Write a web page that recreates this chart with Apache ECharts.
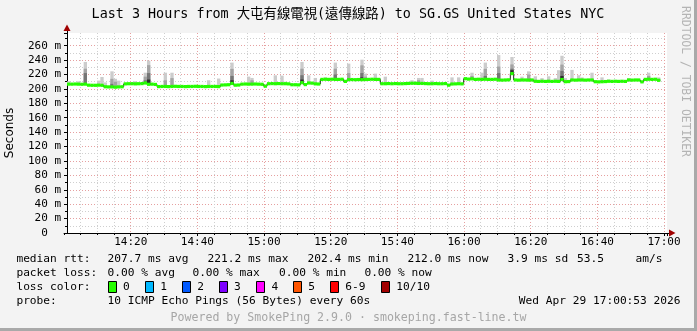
<!DOCTYPE html>
<html><head><meta charset="utf-8">
<script src="https://cdn.jsdelivr.net/npm/echarts@6/dist/echarts.min.js"></script>
<style>html,body{margin:0;padding:0;background:#f3f3f3}#c{width:697px;height:331px}</style>
</head><body><div id="c"></div><script>
// ---------- data ----------
const titleText = 'Last 3 Hours from 大屯有線電視(遠傳線路) to SG.GS United States NYC';
const xTickLabels = ['14:20','14:40','15:00','15:20','15:40','16:00','16:20','16:40','17:00'];
const xTickMinutes = [20,40,60,80,100,120,140,160,180]; // minutes after 14:00
const startSeconds = 53; // graph window starts at 14:00:53
const yLabelValues = [0,20,40,60,80,100,120,140,160,180,200,220,240,260];

// median rtt (ms), one value per minute from 14:00:53
const median = [
 206.6,206.6,206.8,206.6,206.4,206.6,
 205.2,205.0,205.0,205.2,205.0,
 203.0,202.8,202.8,202.4,202.8,203.0,
 207.0,207.2,207.2,207.0,207.2,207.4,
 208.2,
 206.4,206.6,206.2,
 203.2,203.4,203.4,203.2,203.4,203.6,203.4,203.4,203.2,203.4,203.4,203.6,203.4,203.4,203.2,203.4,203.4,203.4,203.2,
 205.4,205.6,205.8,
 207.6,
 205.2,205.4,
 206.6,206.8,206.6,206.6,206.8,206.6,206.4,
 203.8,
 207.2,207.4,207.2,207.4,207.2,207.2,207.0,
 205.8,205.8,205.6,
 208.6,
 206.0,
 208.2,208.0,
 207.0,206.8,
 213.2,213.4,213.2,213.4,213.2,213.2,213.4,
 210.4,
 212.8,213.0,212.8,213.0,212.8,213.0,
 213.2,213.4,213.2,213.2,
 207.2,207.2,207.4,207.2,207.4,207.2,207.2,207.4,207.6,207.8,207.8,207.6,207.6,207.4,207.2,207.2,207.4,207.2,207.2,207.4,
 205.2,
 206.8,207.0,207.2,207.0,
 214.2,213.6,214.0,
 213.2,213.4,213.2,213.4,213.2,213.2,213.4,
 212.4,212.2,212.4,212.6,
 221.2,
 212.4,212.2,212.4,212.4,212.2,212.4,
 210.6,210.4,210.6,210.4,210.6,210.4,210.6,210.4,
 213.0,
 210.0,210.2,
 212.4,212.2,212.4,212.4,212.2,212.4,212.4,
 210.0,209.8,210.0,210.2,
 210.6,210.4,210.6,210.4,210.6,210.4,
 212.4,212.2,212.4,212.4,
 209.8,
 213.2,213.4,213.2,213.4,
 212.0
];

// smoke (ping spread) for minutes that show it
const spikeMinute = [0,3,5,9,10, 11,13,14,15,19, 20,23,24,29,31, 42,45,49,54,55, 62,64,65,70,72,
 74,77,80,84,88, 89,92,95,103,105, 106,109,115,117,121, 124,125,129,133,136, 138,140,142,144,146,
 147,148,149,151,153, 154,157,160,162,168, 174,177];
const spikeMax = [210.6,210.6,237.4,211.5,216.5, 209,224.4,214,211.5,209.5, 210.6,222.5,239.2,222.5,222.5,
 212,214.4,236.5,217.1,215.2, 218.9,218.4,210,237.4,218.9, 215.2,216,236.5,235.1,240.6,
 221.2,221.2,217,212,215.2, 215.2,211.5,216,216,222.5, 222.5,236.5,247,244.3,217,
 224.4,217.5,215,217.5,215, 226,246,215,226.4,219, 216,222.5,216,213,215, 222.5,216];
const spikeMid = [null,null,228,null,null, null,214,210,null,null, null,217,233,212,215,
 null,null,227.8,null,212, null,null,null,228,null, null,null,228,222,232.7,
 217,null,null,null,212, null,null,null,null,218, null,227.8,231,234,null,
 220,null,null,null,null, null,233.7,null,null,null, null,null,null,null,null, 218,null];
const spikeDark = [null,null,222,null,null, null,207,null,null,null, null,212,222,null,null,
 null,null,218,null,null, null,null,null,219,null, null,null,220,null,222,
 null,null,null,null,null, null,null,null,null,null, null,218,222,228,null,
 null,null,null,null,null, null,225,null,null,null, null,null,null,null,null, null,null];
const spikeBlack = [null,null,null,null,null, null,null,null,null,null, null,null,213,null,null,
 null,null,212,null,null, null,null,null,213,null, null,null,213,null,216,
 null,null,null,null,null, null,null,null,null,null, null,null,null,226,null,
 null,null,null,null,null, null,218,null,null,null, null,null,null,null,null, null,null];

const rttStats = ['207.7 ms avg','221.2 ms max','202.4 ms min','212.0 ms now','3.9 ms sd','53.5','am/s'];
const lossStats = ['0.00 % avg','0.00 % max','0.00 % min','0.00 % now'];
const lossColorLabels = ['0','1','2','3','4','5','6-9','10/10'];
const lossColors = ['#26ff00','#00b8ff','#0059ff','#7e00ff','#ff00ff','#ff5500','#ff0000','#a10000'];
const probeText = '10 ICMP Echo Pings (56 Bytes) every 60s';
const dateText = 'Wed Apr 29 17:00:53 2026';
const footerText = 'Powered by SmokePing 2.9.0 · smokeping.fast-line.tw';
const watermark = 'RRDTOOL / TOBI OETIKER';

// ---------- layout ----------
const PL = 67, PT = 33, PW = 600, PH = 200;
const YMAX = 277.6;
const off = startSeconds / 60;
const pxPerMin = PW / 180;
const MONO = '"DejaVu Sans Mono","Noto Sans CJK TC",monospace';
const minorC = '#cfcfcf', majorC = '#e6a0a0';

const smokeData = spikeMinute.map((m, k) => [m, median[m] - 1, spikeMax[k],
  spikeMid[k] == null ? NaN : spikeMid[k], spikeDark[k] == null ? NaN : spikeDark[k],
  spikeBlack[k] == null ? NaN : spikeBlack[k]]);
const medData = median.map((v, i) => [i, v, i + 1 < median.length ? median[i + 1] : v]);

function smokeItem(params, api) {
  const i = api.value(0), base = api.value(1);
  const w = api.size([1, 0])[0];
  const lv = [[api.value(2), '#cccccc'], [api.value(3), '#a4a4a4'], [api.value(4), '#767676'], [api.value(5), '#2e2e2e']];
  const children = [];
  lv.forEach(([top, color]) => {
    if (top == null || isNaN(top)) return;
    const p0 = api.coord([i, base]), p1 = api.coord([i, top]);
    children.push({type: 'rect', shape: {x: p0[0], y: p1[1], width: w, height: p0[1] - p1[1]}, style: {fill: color}});
  });
  return {type: 'group', children};
}
function blackItem(params, api) {
  const i = api.value(0), v = api.value(1), n = api.value(2);
  const a = api.coord([i, v]), b = api.coord([i + 1, v]), c = api.coord([i + 1, n]);
  return {type: 'polyline', shape: {points: [a, b, c]}, style: {stroke: '#202020', lineWidth: 1, fill: null}};
}
function greenItem(params, api) {
  const i = api.value(0), v = api.value(1);
  const a = api.coord([i, v]), b = api.coord([i + 1, v]);
  return {type: 'line', shape: {x1: a[0], y1: a[1], x2: b[0], y2: b[1]}, style: {stroke: '#26ff00', lineWidth: 3.2}};
}

const graphics = [];
graphics.push({type: 'rect', z: -100, shape: {x: PL, y: PT, width: PW, height: PH}, style: {fill: '#ffffff'}});
// axis extensions + arrows
graphics.push({type: 'line', z: 10, shape: {x1: PL + 0.5, y1: PT, x2: PL + 0.5, y2: 29}, style: {stroke: '#000', lineWidth: 1}});
graphics.push({type: 'polygon', z: 10, shape: {points: [[63.5, 31], [70.5, 31], [67, 24.5]]}, style: {fill: '#a00000'}});
graphics.push({type: 'line', z: 10, shape: {x1: PL + PW, y1: PT + PH + 0.5, x2: 670, y2: PT + PH + 0.5}, style: {stroke: '#000', lineWidth: 1}});
graphics.push({type: 'polygon', z: 10, shape: {points: [[669, 229.5], [669, 236.5], [675.5, 233]]}, style: {fill: '#a00000'}});
// title
graphics.push({type: 'text', x: 348, y: 15, style: {text: titleText, font: '13.4px ' + MONO, fill: '#000', align: 'center', verticalAlign: 'middle'}});
// watermark
graphics.push({type: 'text', x: 685, y: 81.5, rotation: -Math.PI / 2, style: {text: watermark, font: '11.4px ' + MONO, fill: '#b4b4b4', align: 'center', verticalAlign: 'middle'}});
// legend
const LF = '11.2px ' + MONO;
function txt(t, x, y, fill, align) { graphics.push({type: 'text', x, y, style: {text: t, font: LF, fill: fill || '#000', align: align || 'left', verticalAlign: 'middle'}}); }
const r1 = 259.3, r2 = 273.3, r3 = 287.3, r4 = 301;
txt('median rtt:', 16.4, r1);
[107.6, 207.6, 307.6, 407.6, 507.6, 577, 635.6].forEach((x, k) => txt(rttStats[k], x, r1));
txt('packet loss:', 16.4, r2);
[107.6, 192.4, 279, 364.4].forEach((x, k) => txt(lossStats[k], x, r2));
txt('loss color:', 16.4, r3);
const swX = [108, 145.3, 182.2, 219, 256.4, 293.3, 330.2, 381.3];
swX.forEach((x, k) => {
  graphics.push({type: 'rect', shape: {x: Math.round(x) + 0.5, y: 281.5, width: 8, height: 11}, style: {fill: lossColors[k], stroke: '#000', lineWidth: 1}});
  txt(lossColorLabels[k], x + 15, r3);
});
txt('probe:', 16.4, r4);
txt(probeText, 107.6, r4);
txt(dateText, 680.5, r4, '#000', 'right');
graphics.push({type: 'text', x: 348.5, y: 318, style: {text: footerText, font: '11.6px ' + MONO, fill: '#a6a6a6', align: 'center', verticalAlign: 'middle'}});
// frame
graphics.push({type: 'rect', shape: {x: 694, y: 0, width: 3, height: 331}, style: {fill: '#a9a9a9'}});
graphics.push({type: 'rect', shape: {x: 0, y: 328, width: 697, height: 3}, style: {fill: '#a9a9a9'}});

const dotted = [1, 2];
const option = {
  animation: false,
  backgroundColor: '#f3f3f3',
  grid: [
    {left: PL, top: PT, width: PW, height: PH, outerBoundsMode: 'none', containLabel: false},
    {left: PL - off * pxPerMin, top: PT, width: PW + off * pxPerMin, height: PH, outerBoundsMode: 'none', containLabel: false}
  ],
  xAxis: [
    {gridIndex: 0, type: 'value', position: 'bottom', min: 0, max: 180, show: false},
    {gridIndex: 1, type: 'value', position: 'bottom', min: 0, max: 180 + off, interval: 5,
      axisLine: {show: false}, axisLabel: {show: false},
      axisTick: {show: true, length: 2, lineStyle: {color: '#000'}},
      splitLine: {show: true, showMinLine: false, showMaxLine: false, lineStyle: {color: minorC, type: dotted, width: 1}}},
    {gridIndex: 1, type: 'value', position: 'bottom', min: 0, max: 180 + off, interval: 20,
      axisLine: {show: true, onZero: false, lineStyle: {color: '#000', width: 1}},
      axisTick: {show: true, length: 3, lineStyle: {color: '#000'}},
      axisLabel: {show: true, margin: 4, fontFamily: MONO, fontSize: 11, color: '#000',
        showMinLabel: false,
        formatter: v => { const r = Math.round(v); const k = xTickMinutes.indexOf(r); return (Math.abs(v - r) < 1e-6 && k >= 0) ? xTickLabels[k] : ''; }},
      splitLine: {show: true, showMinLine: false, showMaxLine: false, lineStyle: {color: majorC, type: dotted, width: 1}}}
  ],
  yAxis: [
    {gridIndex: 0, type: 'value', position: 'left', min: 0, max: YMAX, interval: 10,
      axisLine: {show: false}, axisLabel: {show: false},
      axisTick: {show: true, length: 2, lineStyle: {color: '#000'}},
      splitLine: {show: true, showMinLine: false, showMaxLine: false, lineStyle: {color: minorC, type: dotted, width: 1}}},
    {gridIndex: 0, type: 'value', position: 'left', min: 0, max: YMAX, interval: 20,
      name: 'Seconds', nameLocation: 'middle', nameGap: 51,
      nameTextStyle: {fontFamily: '"DejaVu Sans"', fontSize: 12, color: '#000'},
      axisLine: {show: true, onZero: false, lineStyle: {color: '#000', width: 1}},
      axisTick: {show: true, length: 3, lineStyle: {color: '#000'}},
      axisLabel: {show: true, margin: 6, fontFamily: MONO, fontSize: 11, color: '#000',
        formatter: v => { const k = yLabelValues.indexOf(v); if (k < 0) return ''; return v === 0 ? '0  ' : v + ' m'; }},
      splitLine: {show: true, showMinLine: false, showMaxLine: false, lineStyle: {color: majorC, type: dotted, width: 1}}},
    {gridIndex: 1, type: 'value', position: 'left', min: 0, max: YMAX, show: false}
  ],
  series: [
    {type: 'custom', xAxisIndex: 0, yAxisIndex: 1, renderItem: smokeItem, data: smokeData, encode: {x: 0, y: [1, 2]}, clip: true, z: 3},
    {type: 'custom', xAxisIndex: 0, yAxisIndex: 1, renderItem: blackItem, data: medData, encode: {x: 0, y: 1}, clip: true, z: 4},
    {type: 'custom', xAxisIndex: 0, yAxisIndex: 1, renderItem: greenItem, data: medData, encode: {x: 0, y: 1}, clip: true, z: 5}
  ],
  graphic: {elements: graphics}
};
const chart = echarts.init(document.getElementById('c'), null, {renderer: 'canvas'});
chart.setOption(option);
</script></body></html>
